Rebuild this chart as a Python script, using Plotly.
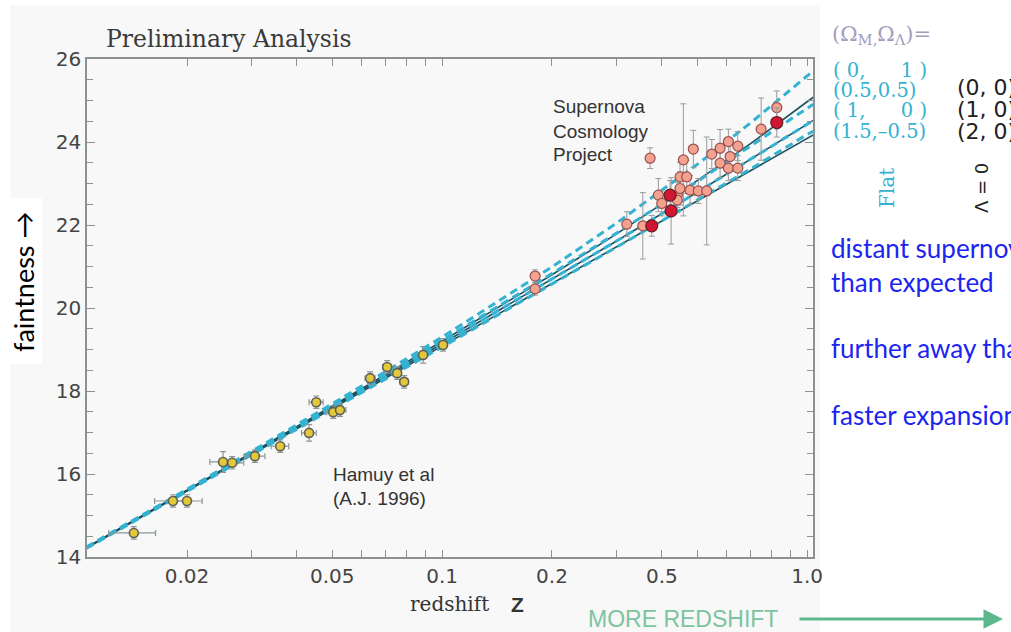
import plotly.graph_objects as go

# ---- data ---------------------------------------------------------------
# Calan/Tololo low-redshift supernovae (Hamuy et al. 1996)
HAMUY_Z = [0.0143, 0.0183, 0.0200, 0.0251, 0.0266, 0.0307, 0.0360, 0.0432, 0.0452,
           0.0503, 0.0525, 0.0635, 0.0707, 0.0753, 0.0787, 0.0887, 0.1006]
HAMUY_M = [14.58, 15.35, 15.35, 16.29, 16.27, 16.43, 16.67, 16.99, 17.73,
           17.49, 17.54, 18.31, 18.58, 18.43, 18.22, 18.87, 19.11]
HAMUY_DZ = [0.0021, 0.0020, 0.0020, 0.0020, 0.0020, 0.0020, 0.0020, 0.0020, 0.0020,
            0.0020, 0.0020, 0.0020, 0.0020, 0.0020, 0.0020, 0.0020, 0.0020]
HAMUY_DM = [0.15, 0.15, 0.15, 0.25, 0.15, 0.15, 0.15, 0.20, 0.15,
            0.15, 0.15, 0.15, 0.15, 0.15, 0.15, 0.20, 0.15]

# Supernova Cosmology Project, high-redshift sample
SCP_Z = [0.1798, 0.1798, 0.3206, 0.3547, 0.3714, 0.3913, 0.3998, 0.4411, 0.4411,
         0.4487, 0.4487, 0.4581, 0.4680, 0.4778, 0.4879, 0.5035, 0.5309, 0.5481,
         0.5776, 0.5776, 0.6087, 0.6152, 0.6087, 0.6459, 0.6459, 0.7482, 0.8260]
SCP_M = [20.77, 20.46, 22.02, 21.98, 23.61, 22.72, 22.52, 22.72, 22.60,
         22.88, 23.16, 23.57, 23.16, 22.84, 23.83, 22.82, 22.82, 23.71,
         23.85, 23.49, 24.01, 23.65, 23.37, 23.90, 23.37, 24.31, 24.83]
SCP_DM = [0.15, 0.15, 0.30, 0.80, 0.25, 0.40, 0.30, 0.30, 0.30,
          0.40, 0.35, 1.35, 0.40, 0.35, 0.45, 0.30, 1.30, 0.35,
          0.45, 0.35, 0.30, 0.30, 0.30, 0.35, 0.30, 0.75, 0.40]

# highlighted SCP supernovae
SCP_RED_Z = [0.3753, 0.4213, 0.4240, 0.8260]
SCP_RED_M = [21.98, 22.72, 22.34, 24.47]
SCP_RED_DM = [0.25, 0.35, 0.80, 0.35]

# model Hubble lines, magnitude at each redshift
MODEL_Z = [0.0106, 0.02, 0.05, 0.1, 0.2, 0.3, 0.5, 0.7, 1.0, 1.04]
FLAT_MODELS = {
    "(0, 1)":      [14.24, 15.63, 17.69, 19.30, 20.99, 22.04, 23.46, 24.46, 25.59, 25.72],
    "(0.5, 0.5)":  [14.23, 15.62, 17.65, 19.22, 20.83, 21.80, 23.05, 23.90, 24.81, 24.91],
    "(1, 0)":      [14.22, 15.60, 17.61, 19.14, 20.69, 21.61, 22.79, 23.58, 24.43, 24.52],
    "(1.5, -0.5)": [14.21, 15.58, 17.57, 19.06, 20.58, 21.46, 22.60, 23.35, 24.18, 24.26],
}
OPEN_MODELS = {
    "(0, 0)": [14.23, 15.61, 17.64, 19.20, 20.80, 21.78, 23.07, 23.96, 24.97, 25.08],
    "(1, 0)": [14.22, 15.60, 17.61, 19.14, 20.69, 21.61, 22.79, 23.58, 24.43, 24.52],
    "(2, 0)": [14.21, 15.59, 17.58, 19.09, 20.59, 21.47, 22.58, 23.31, 24.09, 24.17],
}

X_TICKS = [0.02, 0.03, 0.04, 0.05, 0.06, 0.07, 0.08, 0.09, 0.1,
           0.2, 0.3, 0.4, 0.5, 0.6, 0.7, 0.8, 0.9, 1.0]
X_TICKTEXT = ["0.02", "", "", "0.05", "", "", "", "", "0.1",
              "0.2", "", "0.5", "", "", "", "", "", "1.0"]
Y_TICKS = [14, 16, 18, 20, 22, 24, 26]

# ---- layout geometry (pixels) ---------------------------------------------
W, H = 1011, 632
L, R, T, B = 87, 813, 59, 557


def fx(x):
    return (x - L) / (R - L)


def fy(y):
    return (B - y) / (B - T)


SERIF = "DejaVu Serif, serif"
SANS = "Liberation Sans, Arial, sans-serif"
WIDE_SANS = "DejaVu Sans, sans-serif"
HUMAN = "Lato, Open Sans, sans-serif"
CYAN = "#34b2d2"
DARK = "#1f4f5c"

fig = go.Figure()

for name, mags in OPEN_MODELS.items():
    fig.add_trace(go.Scatter(x=MODEL_Z, y=mags, mode="lines", name=name,
                             line=dict(color=DARK, width=1.6), hoverinfo="skip"))
for name, mags in FLAT_MODELS.items():
    fig.add_trace(go.Scatter(x=MODEL_Z, y=mags, mode="lines", name=name,
                             line=dict(color=CYAN, width=3, dash="8px,5px"),
                             hoverinfo="skip"))

fig.add_trace(go.Scatter(
    x=HAMUY_Z, y=HAMUY_M, mode="markers", name="Hamuy et al",
    error_x=dict(type="data", array=HAMUY_DZ, color="#8c9898", thickness=1.2, width=3),
    error_y=dict(type="data", array=HAMUY_DM, color="#8c9898", thickness=1.2, width=3),
    marker=dict(size=9, color="#e3c83a", line=dict(color="#5e6058", width=1.6)),
))
fig.add_trace(go.Scatter(
    x=SCP_Z, y=SCP_M, mode="markers", name="SCP",
    error_y=dict(type="data", array=SCP_DM, color="#9a9a9a", thickness=1, width=3),
    marker=dict(size=10, color="#f2a28e", line=dict(color="#9a5050", width=1.2)),
))
fig.add_trace(go.Scatter(
    x=SCP_RED_Z, y=SCP_RED_M, mode="markers", name="SCP highlighted",
    error_y=dict(type="data", array=SCP_RED_DM, color="#9a9a9a", thickness=1, width=3),
    marker=dict(size=12, color="#cf1632", line=dict(color="#6a1a20", width=1.2)),
))

ann = []


def text(x, y, s, size, color, family, xanchor="left", angle=0, yanchor="middle"):
    ann.append(dict(x=fx(x), y=fy(y), xref="paper", yref="paper", text=s,
                    showarrow=False, xanchor=xanchor, yanchor=yanchor,
                    textangle=angle, font=dict(size=size, color=color, family=family)))


text(104, 39, "Preliminary Analysis", 23.5, "#3a3a3a", SERIF)
text(23, 282, "faintness \u2192", 27, "#000000", HUMAN, xanchor="center", angle=-90)
text(449, 604, "redshift", 20, "#333333", SERIF, xanchor="center")
text(517, 604, "<b>Z</b>", 21, "#333333", SANS, xanchor="center")
text(586, 619, "MORE REDSHIFT", 23, "#7cc4a0", SANS)

text(551, 107, "Supernova", 19, "#333333", SANS)
text(551, 131, "Cosmology", 19, "#333333", SANS)
text(551, 155, "Project", 19, "#333333", SANS)
text(331, 474, "Hamuy et al", 19, "#333333", SANS)
text(331, 498, "(A.J. 1996)", 19, "#333333", SANS)

text(830, 35, "(\u03a9<sub>M,</sub>\u03a9<sub>\u039b</sub>)=", 21, "#a59cbc", SERIF)
for yy, s in zip([70, 90, 111, 131],
                 ["( 0,\u2003\u2002 1 )", "(0.5,0.5)", "( 1,\u2003\u2002 0 )",
                  "(1.5,\u20130.5)"]):
    text(831, yy, s, 19.5, CYAN, SERIF)
for yy, s in zip([87, 109, 131], ["(0, 0)", "(1, 0)", "(2, 0)"]):
    text(955, yy, s, 22, "#222222", WIDE_SANS)
text(887, 188, "Flat", 20, CYAN, SERIF, xanchor="center", angle=-90)
text(981, 188, "\u039b = 0", 18, "#222222", WIDE_SANS, xanchor="center", angle=-90)

BLUE = "#1c24f0"
text(829, 248, "distant supernovae fainter", 26, BLUE, HUMAN)
text(829, 282, "than expected", 26, BLUE, HUMAN)
text(829, 348, "further away than expected", 26, BLUE, HUMAN)
text(829, 415, "faster expansion", 26, BLUE, HUMAN)

# arrow after "MORE REDSHIFT"
ann.append(dict(x=fx(1003), y=fy(619), ax=-205, ay=0,
                xref="paper", yref="paper", axref="pixel", ayref="pixel",
                text="", showarrow=True, arrowhead=2, arrowsize=1.3,
                arrowwidth=3, arrowcolor="#5db98d"))

shapes = [
    dict(type="rect", xref="paper", yref="paper", layer="below",
         x0=fx(10), x1=fx(820), y0=fy(632), y1=fy(5),
         fillcolor="#f8f8f8", line=dict(width=0)),
    dict(type="rect", xref="paper", yref="paper", layer="below",
         x0=fx(0), x1=fx(42), y0=fy(364), y1=fy(198),
         fillcolor="#ffffff", line=dict(width=0)),
]

axis_common = dict(showline=True, mirror="allticks", linecolor="#8c9090",
                   linewidth=1.5, ticks="inside", tickcolor="#8c9090",
                   showgrid=False, zeroline=False,
                   tickfont=dict(family=WIDE_SANS, size=20, color="#444444"))

fig.update_layout(
    width=W, height=H,
    margin=dict(l=L, r=W - R, t=T, b=H - B, autoexpand=False),
    paper_bgcolor="#ffffff",
    plot_bgcolor="#dbecec",
    showlegend=False,
    annotations=ann,
    shapes=shapes,
    xaxis=dict(type="log", range=[-1.973, 0.0162], tickvals=X_TICKS,
               ticktext=X_TICKTEXT, ticklen=7, tickwidth=1.2, **axis_common),
    yaxis=dict(range=[14, 26], tickvals=Y_TICKS, ticklen=8, tickwidth=1.2,
               minor=dict(dtick=0.5, ticks="inside", ticklen=6,
                          tickcolor="#8c9090", tickwidth=1.2),
               **axis_common),
)

fig.write_html("out.html")
